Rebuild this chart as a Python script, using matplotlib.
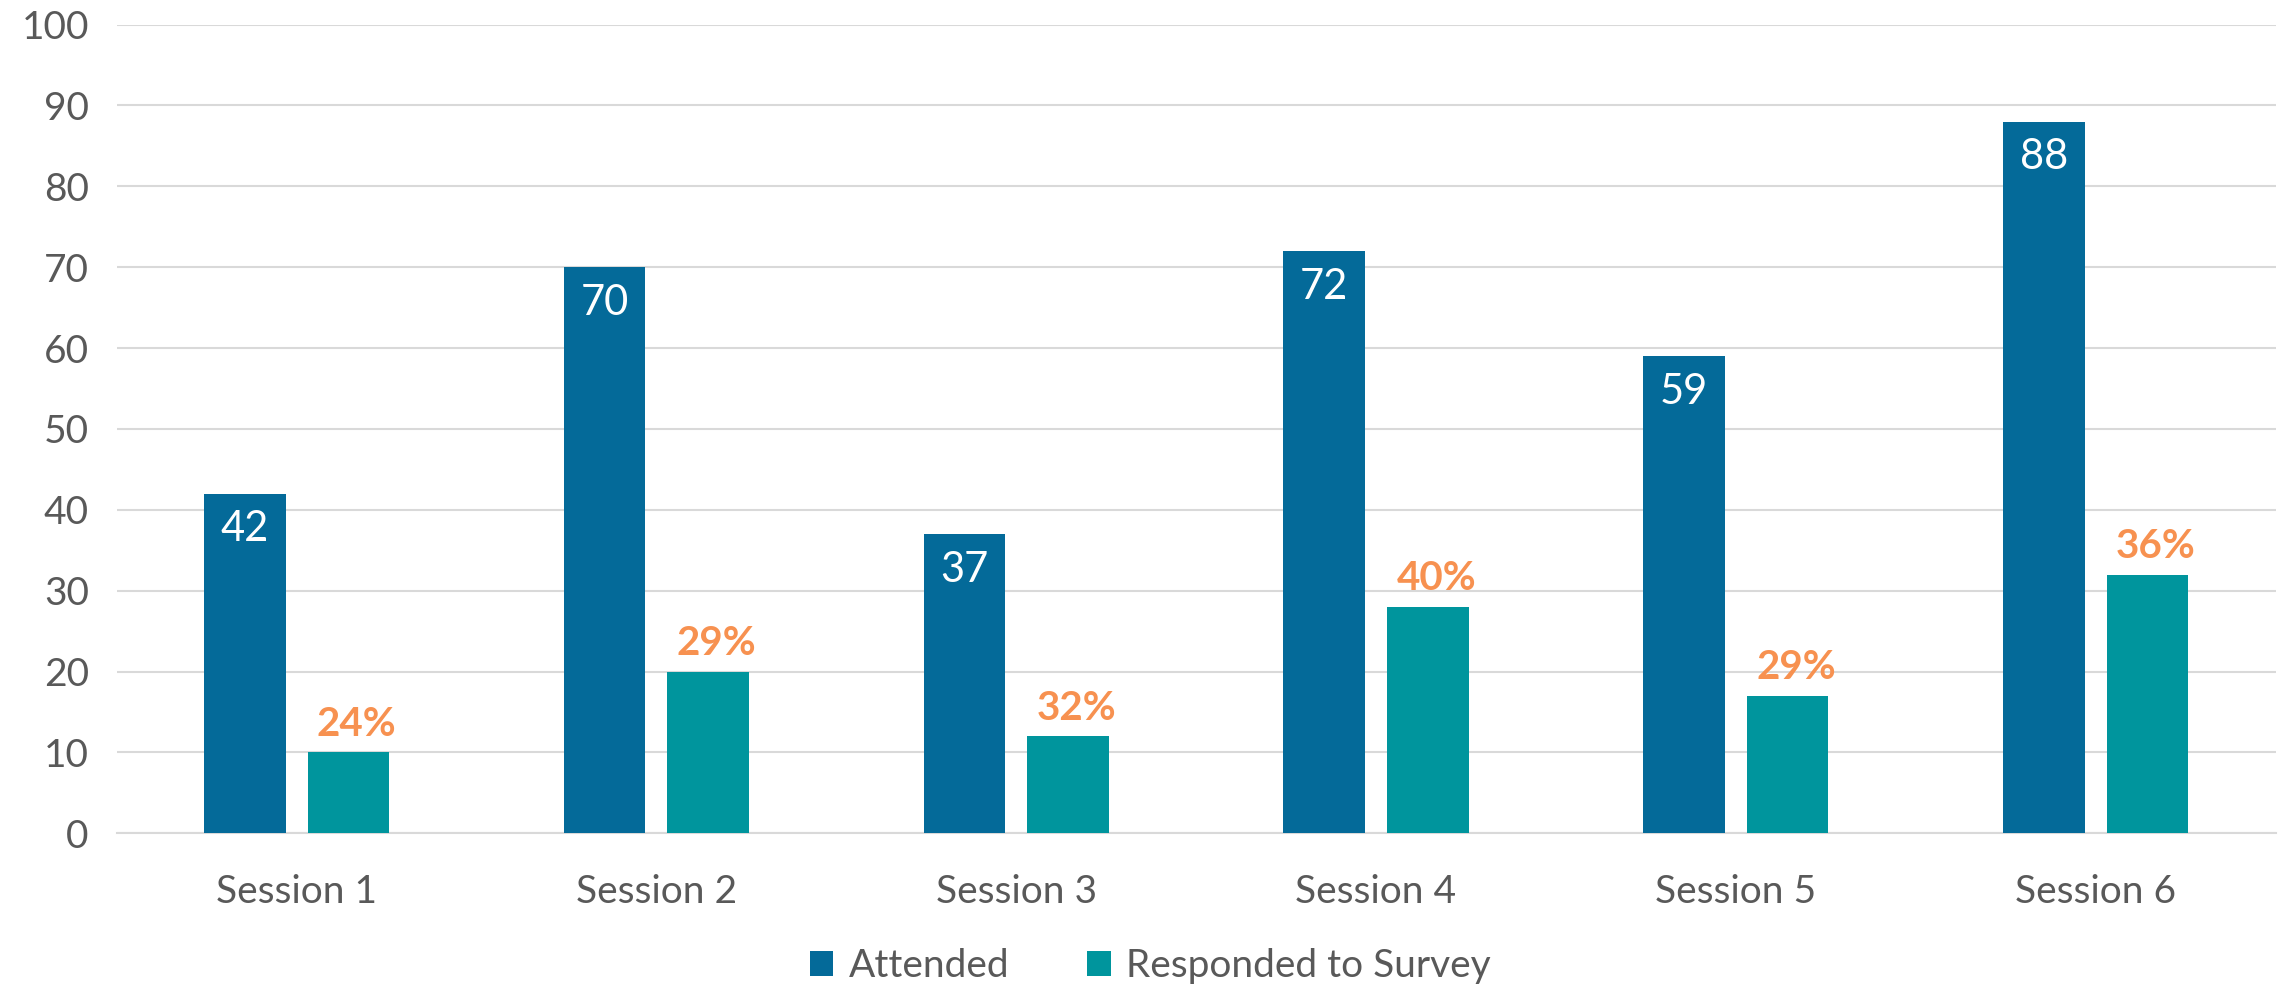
import numpy as np
import matplotlib.pyplot as plt

sessions = ['Session 1', 'Session 2', 'Session 3', 'Session 4', 'Session 5', 'Session 6']
attended = [42, 70, 37, 72, 59, 88]
responded = [10, 20, 12, 28, 17, 32]
pct_labels = ['24%', '29%', '32%', '40%', '29%', '36%']

plt.rcParams['font.family'] = ['Lato', 'DejaVu Sans']

c_att = '#046A99'
c_resp = '#00959D'
c_pct = '#F79150'
c_txt = '#595959'

fig = plt.figure(figsize=(22.87, 9.85), dpi=100)
ax = fig.add_axes([0.051, 0.154, 0.944, 0.821])

x = np.arange(len(sessions))
w = 0.227
off = 0.144
b1 = ax.bar(x - off, attended, w, color=c_att, label='Attended', zorder=3)
b2 = ax.bar(x + off, responded, w, color=c_resp, label='Responded to Survey', zorder=3)

# values inside the attended bars
for rect, v in zip(b1, attended):
    ax.annotate(str(v), (rect.get_x() + rect.get_width() / 2, v),
                xytext=(0, -12), textcoords='offset points',
                ha='center', va='top', color='white', fontsize=30, zorder=4)

# percentage labels over survey bars
for rect, v, s in zip(b2, responded, pct_labels):
    ax.annotate(s, (rect.get_x() + rect.get_width() / 2, v),
                xytext=(6, 7), textcoords='offset points',
                ha='center', va='bottom', color=c_pct, fontsize=29,
                fontweight='bold', zorder=4)

ax.set_xlim(-0.5, len(sessions) - 0.5)
ax.set_ylim(0, 100)
ax.set_yticks(range(0, 101, 10))
ax.set_xticks(x)
ax.set_xticklabels(sessions)
ax.tick_params(axis='both', length=0, labelsize=28, labelcolor=c_txt)
ax.tick_params(axis='x', pad=29)
ax.tick_params(axis='y', pad=20)

ax.grid(axis='y', color='#D9D9D9', linewidth=1.5, zorder=0)
for sp in ['top', 'right', 'left']:
    ax.spines[sp].set_visible(False)
ax.spines['bottom'].set_color('#D9D9D9')
ax.spines['bottom'].set_linewidth(1.5)

leg = fig.legend(loc='lower center', ncol=2, frameon=False, fontsize=28,
                 handlelength=0.6, handleheight=0.6, handletextpad=0.4,
                 columnspacing=2.0, bbox_to_anchor=(0.503, -0.035))
for t in leg.get_texts():
    t.set_color(c_txt)

fig.savefig('out.png', dpi=100, facecolor='white')
